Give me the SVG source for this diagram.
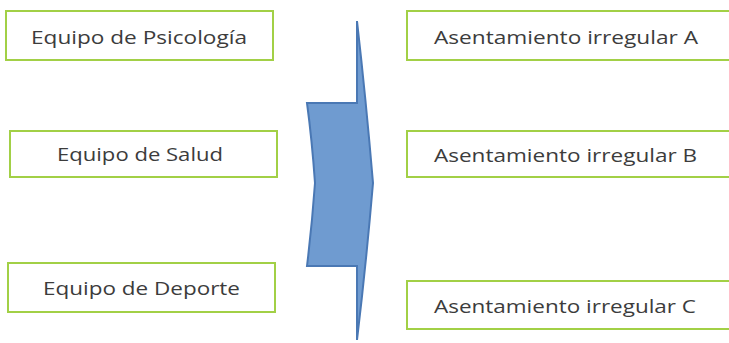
<svg xmlns="http://www.w3.org/2000/svg" width="729" height="343" viewBox="0 0 729 343">
<style>
.box{fill:#ffffff;stroke:#a2d046;stroke-width:2}
.lbl{font-family:"Open Sans","Liberation Sans",sans-serif;font-size:19px;fill:#3c3c3c}
.arrow{fill:#6f9bd0;stroke:#4a78b4;stroke-width:2;stroke-linejoin:miter}
</style>
<rect width="729" height="343" fill="#ffffff"/>
<g id="connectors">
<path class="arrow" d="M357,21 Q366,100 373,183 Q366,265 357,340 L357,266 L307,266 Q312,225 315,183 Q312,140 307,103 L357,103 Z"/>
</g>
<g id="node-psicologia">
<rect class="box" x="6" y="11" width="267" height="49"/>
<text class="lbl" x="31" y="44" textLength="216" lengthAdjust="spacingAndGlyphs">Equipo de Psicología</text>
</g>
<g id="node-salud">
<rect class="box" x="10" y="131" width="267" height="46"/>
<text class="lbl" x="57" y="161" textLength="166" lengthAdjust="spacingAndGlyphs">Equipo de Salud</text>
</g>
<g id="node-deporte">
<rect class="box" x="8" y="263" width="267" height="49"/>
<text class="lbl" x="43" y="295" textLength="197" lengthAdjust="spacingAndGlyphs">Equipo de Deporte</text>
</g>
<g id="node-a">
<rect class="box" x="407" y="11" width="340" height="49"/>
<text class="lbl" x="434" y="44" textLength="264" lengthAdjust="spacingAndGlyphs">Asentamiento irregular A</text>
</g>
<g id="node-b">
<rect class="box" x="407" y="131" width="340" height="46"/>
<text class="lbl" x="434" y="162" textLength="263" lengthAdjust="spacingAndGlyphs">Asentamiento irregular B</text>
</g>
<g id="node-c">
<rect class="box" x="407" y="281" width="340" height="48"/>
<text class="lbl" x="434" y="313" textLength="262" lengthAdjust="spacingAndGlyphs">Asentamiento irregular C</text>
</g>
</svg>
